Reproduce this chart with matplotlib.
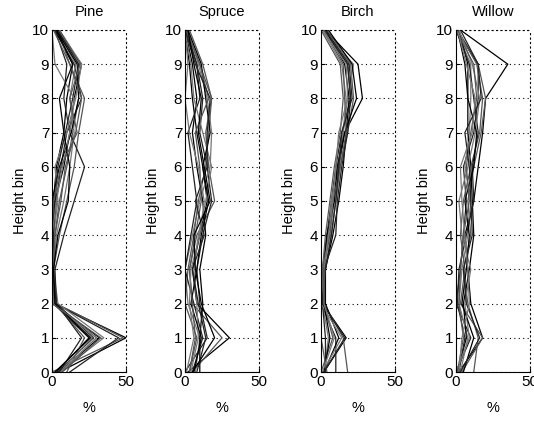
"""Vertical height-bin profiles (% per bin) for four tree species."""
import matplotlib

matplotlib.use("Agg")
import matplotlib.pyplot as plt

plt.rcParams["font.family"] = ["Liberation Sans", "DejaVu Sans"]

bins = list(range(11))
species = ["Pine", "Spruce", "Birch", "Willow"]

# each row: % for height bins 0..10
pine = [
    [5, 50, 2, 0, 0, 2, 8, 12, 15, 20, 3],
    [0, 48, 3, 1, 2, 5, 10, 14, 18, 18, 4],
    [12, 45, 2, 0, 1, 3, 6, 10, 20, 15, 2],
    [5, 35, 4, 1, 3, 8, 12, 15, 12, 16, 3],
    [5, 32, 1, 0, 0, 1, 3, 8, 10, 14, 2],
    [6, 30, 2, 1, 5, 10, 15, 18, 22, 12, 4],
    [4, 28, 3, 2, 8, 15, 22, 12, 8, 10, 2],
    [5, 27, 2, 0, 1, 4, 2, 10, 16, 20, 5],
    [3, 25, 1, 0, 0, 0, 5, 13, 18, 17, 3],
    [10, 22, 2, 1, 2, 6, 9, 16, 20, 12, 1],
    [5, 20, 3, 0, 1, 2, 4, 9, 14, 18, 4],
    [6, 30, 1, 0, 0, 3, 7, 12, 15, 2, 0],
    [2, 26, 2, 1, 4, 11, 12, 8, 5, 14, 3],
    [7, 33, 0, 0, 0, 1, 6, 17, 12, 19, 5],
]
spruce = [
    [2, 30, 8, 5, 10, 15, 12, 8, 5, 3, 0],
    [5, 25, 5, 3, 8, 20, 16, 14, 18, 10, 1],
    [0, 15, 10, 8, 12, 18, 15, 10, 12, 8, 0],
    [7, 10, 2, 0, 5, 10, 17, 18, 15, 9, 2],
    [10, 10, 12, 10, 14, 12, 8, 5, 8, 5, 0],
    [3, 8, 0, 2, 6, 9, 14, 16, 18, 12, 3],
    [5, 12, 6, 0, 4, 8, 5, 2, 10, 8, 1],
    [4, 9, 8, 6, 9, 14, 18, 12, 6, 4, 0],
    [6, 11, 4, 8, 11, 16, 12, 17, 14, 11, 2],
    [3, 7, 5, 3, 7, 11, 10, 7, 16, 10, 1],
    [8, 14, 9, 5, 13, 7, 15, 15, 17, 7, 0],
    [1, 6, 3, 4, 10, 13, 9, 3, 0, 2, 0],
    [5, 20, 11, 7, 6, 17, 13, 9, 11, 6, 2],
]
birch = [
    [2, 17, 1, 2, 5, 8, 12, 16, 28, 25, 3],
    [18, 15, 2, 3, 7, 10, 13, 18, 22, 20, 4],
    [10, 10, 0, 1, 4, 7, 10, 14, 20, 18, 2],
    [2, 5, 1, 2, 6, 9, 12, 15, 18, 22, 1],
    [2, 12, 3, 3, 8, 12, 15, 17, 19, 16, 3],
    [0, 8, 2, 1, 3, 6, 9, 13, 15, 13, 0],
    [3, 3, 1, 2, 10, 11, 14, 18, 20, 18, 2],
    [1, 14, 0, 1, 5, 7, 11, 15, 17, 14, 1],
    [2, 6, 2, 2, 4, 9, 11, 16, 24, 21, 5],
    [4, 0, 0, 1, 6, 8, 13, 17, 16, 15, 2],
    [2, 16, 1, 3, 7, 10, 12, 14, 21, 19, 3],
    [1, 9, 2, 2, 5, 8, 10, 12, 18, 17, 1],
]
willow = [
    [2, 18, 10, 8, 6, 12, 15, 18, 20, 35, 3],
    [12, 15, 8, 5, 10, 8, 12, 17, 20, 15, 0],
    [0, 10, 0, 3, 5, 7, 5, 12, 15, 15, 1],
    [3, 8, 2, 4, 8, 10, 6, 9, 10, 10, 0],
    [1, 7, 5, 9, 12, 11, 10, 8, 8, 8, 2],
    [4, 18, 3, 6, 3, 5, 10, 16, 18, 14, 1],
    [2, 6, 1, 2, 7, 12, 11, 15, 12, 9, 0],
    [0, 9, 6, 10, 4, 2, 8, 13, 16, 11, 2],
    [5, 12, 4, 7, 9, 6, 12, 14, 8, 6, 1],
    [1, 5, 2, 3, 5, 9, 7, 10, 14, 12, 0],
    [3, 16, 7, 5, 11, 10, 9, 6, 17, 15, 3],
    [2, 4, 9, 8, 6, 4, 3, 11, 13, 7, 1],
]
profiles = [pine, spruce, birch, willow]

shades = ["black", "#555555", "#222222", "#777777"]
lefts = [52, 185, 321, 456]
dots = (0, (1, 3))

fig = plt.figure(figsize=(5.34, 4.26), dpi=100)
for name, rows, left in zip(species, profiles, lefts):
    ax = fig.add_axes([left / 534, 54 / 426, 74 / 534, 342 / 426])
    for i, row in enumerate(rows):
        ax.plot(row, bins, color=shades[i % len(shades)], lw=0.9)
    ax.set_xlim(0, 50)
    ax.set_ylim(0, 10)
    ax.set_xticks([0, 50])
    ax.set_yticks(range(0, 11))
    ax.grid(True, axis="y", color="black", linestyle=dots, lw=0.8)
    for s in ["top", "right"]:
        ax.spines[s].set_linestyle(dots)
        ax.spines[s].set_linewidth(0.8)
    ax.tick_params(direction="in", length=3, labelsize=11, pad=2)
    ax.set_title(name, fontsize=10.5, pad=10)
    ax.set_xlabel("%", fontsize=10.5, labelpad=9)
    ax.set_ylabel("Height bin", fontsize=10.5, labelpad=4)

fig.savefig("out.png", dpi=100)
